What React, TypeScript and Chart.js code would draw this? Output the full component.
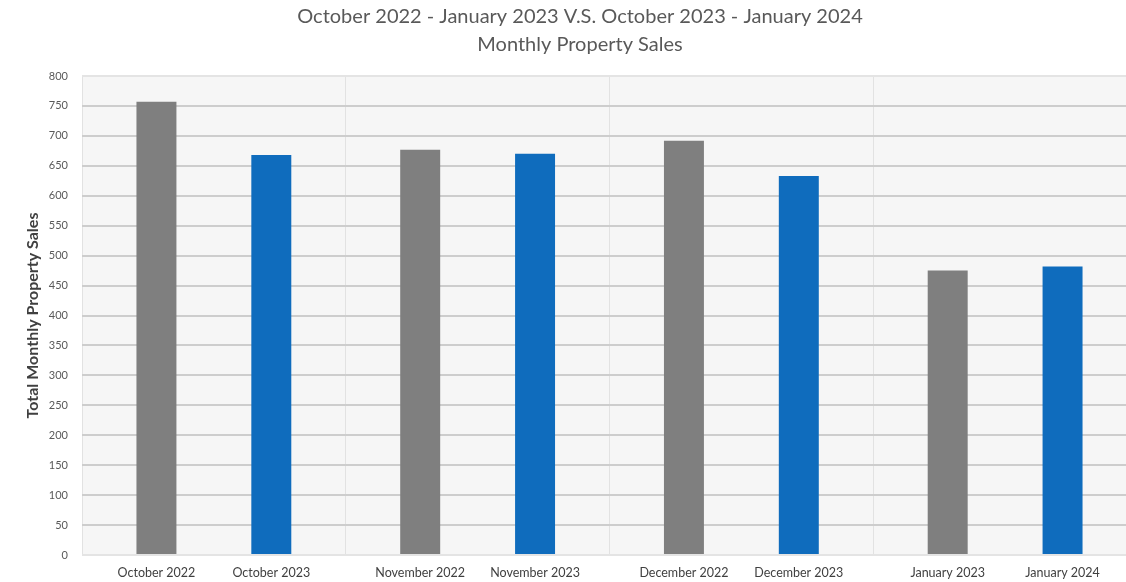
import React, { useEffect, useRef } from 'react';
import { Chart, registerables } from 'chart.js';

Chart.register(...registerables);

const months = ['October', 'November', 'December', 'January'];
const labelsFirstPeriod = ['October 2022', 'November 2022', 'December 2022', 'January 2023'];
const labelsSecondPeriod = ['October 2023', 'November 2023', 'December 2023', 'January 2024'];
const salesFirstPeriod = [757, 677, 692, 475];
const salesSecondPeriod = [668, 670, 633, 482];
const titleLines = [
  'October 2022 - January 2023 V.S. October 2023 - January 2024',
  'Monthly Property Sales',
];
const yAxisTitle = 'Total Monthly Property Sales';

const FONT = 'Lato, "Open Sans", sans-serif';

const plotBackground = {
  id: 'plotBackground',
  beforeDraw(chart: any) {
    const { ctx, chartArea } = chart;
    ctx.save();
    ctx.fillStyle = '#f6f6f6';
    ctx.fillRect(chartArea.left, chartArea.top, chartArea.right - chartArea.left, chartArea.bottom - chartArea.top);
    ctx.restore();
  },
};

const barLabels = {
  id: 'barLabels',
  afterDraw(chart: any) {
    const { ctx, chartArea } = chart;
    ctx.save();
    ctx.font = `12.5px ${FONT}`;
    ctx.fillStyle = '#404040';
    ctx.textAlign = 'center';
    ctx.textBaseline = 'middle';
    chart.data.datasets.forEach((ds: any, di: number) => {
      const meta = chart.getDatasetMeta(di);
      meta.data.forEach((el: any, i: number) => {
        ctx.fillText(ds.barLabels[i], el.x, chartArea.bottom + 18);
      });
    });
    ctx.restore();
  },
};

export default function App() {
  const ref = useRef<HTMLCanvasElement>(null);

  useEffect(() => {
    if (!ref.current) return;
    const chart = new Chart(ref.current, {
      type: 'bar',
      data: {
        labels: months,
        datasets: [
          {
            label: 'Oct 2022 - Jan 2023',
            data: salesFirstPeriod,
            backgroundColor: '#7f7f7f',
            barLabels: labelsFirstPeriod,
          } as any,
          {
            label: 'Oct 2023 - Jan 2024',
            data: salesSecondPeriod,
            backgroundColor: '#0f6cbd',
            barLabels: labelsSecondPeriod,
          } as any,
        ],
      },
      options: {
        animation: false,
        responsive: true,
        maintainAspectRatio: false,
        layout: { padding: { left: 23, right: 3, top: 0, bottom: 0 } },
        datasets: {
          bar: { categoryPercentage: 0.871, barPercentage: 0.348 },
        },
        plugins: {
          legend: { display: false },
          tooltip: { enabled: false },
          title: {
            display: true,
            text: titleLines,
            color: '#595959',
            font: { family: FONT, size: 20, weight: 'normal', lineHeight: 1.4 },
            padding: { top: 3, bottom: 17 },
          },
        },
        scales: {
          x: {
            ticks: { display: false },
            border: { display: false },
            grid: {
              offset: true,
              drawTicks: false,
              color: '#e2e2e2',
              lineWidth: 1,
            },
            afterFit(scale: any) {
              scale.height = 27;
            },
          },
          y: {
            min: 0,
            max: 800,
            ticks: {
              stepSize: 50,
              padding: 14,
              color: '#595959',
              font: { family: FONT, size: 11 },
            },
            border: { display: false },
            grid: {
              drawTicks: false,
              color: (c: any) => (c.tick && (c.tick.value === 0 || c.tick.value === 800) ? '#e4e4e4' : '#cdcdcd'),
              lineWidth: 2,
            },
            title: {
              display: true,
              text: yAxisTitle,
              color: '#404040',
              font: { family: FONT, size: 16, weight: 'bold' },
              padding: { top: 0, bottom: 4 },
            },
            afterFit(scale: any) {
              scale.width = 59;
            },
          },
        },
      } as any,
      plugins: [plotBackground, barLabels],
    });
    return () => chart.destroy();
  }, []);

  return (
    <div style={{ position: 'fixed', left: 0, top: 0, width: 1126, height: 582, overflow: 'hidden', background: '#fff' }}>
      <div style={{ position: 'relative', width: 1140, height: 582 }}>
        <canvas ref={ref} />
      </div>
    </div>
  );
}
